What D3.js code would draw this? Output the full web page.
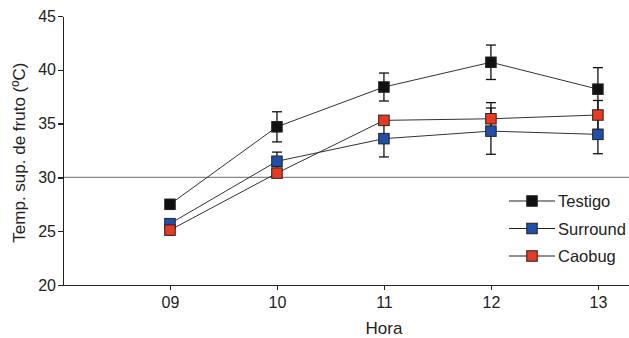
<!DOCTYPE html>
<html lang="es">
<head>
  <meta charset="UTF-8">
  <title>Temp. sup. de fruto</title>
  <script src="https://cdn.jsdelivr.net/npm/d3@7"></script>
  <style>
    body { margin: 0; background: #fff; }
    .axis path, .axis line { stroke: #222; stroke-width: 1.3px; shape-rendering: crispEdges; }
    .axis text { font-family: "Liberation Sans", Arial, sans-serif; font-size: 16px; fill: #222; }
    .lbl { font-family: "Liberation Sans", Arial, sans-serif; font-size: 17px; fill: #222; }
    .leg { font-family: "Liberation Sans", Arial, sans-serif; font-size: 16.5px; fill: #222; }
  </style>
</head>
<body>
  <script>
    const horas = ['09', '10', '11', '12', '13'];
    const xVals = [9, 10, 11, 12, 13];
    const yTicks = [20, 25, 30, 35, 40, 45];
    const series = ['Testigo', 'Surround', 'Caobug'];
    const colors = ['#111111', '#1f4fa8', '#e83a22'];
    const testigo = [27.5, 34.7, 38.4, 40.7, 38.2];
    const surround = [25.7, 31.5, 33.6, 34.3, 34.0];
    const caobug = [25.1, 30.4, 35.3, 35.45, 35.8];
    const errTestigo = [0.4, 1.4, 1.3, 1.6, 2.0];
    const errSurround = [0.4, 0.85, 1.7, 2.15, 1.8];
    const errCaobug = [0.3, 0.3, 0.3, 1.5, 1.35];

    const data = [
      { name: series[0], color: colors[0], vals: testigo, err: errTestigo },
      { name: series[1], color: colors[1], vals: surround, err: errSurround },
      { name: series[2], color: colors[2], vals: caobug, err: errCaobug }
    ];

    const width = 629, height = 338;
    const svg = d3.select('body').append('svg')
      .attr('width', width)
      .attr('height', height);

    const x = d3.scaleLinear().domain([8, 13.3]).range([63, 630]);
    const y = d3.scaleLinear().domain([20, 45]).range([285, 16]);

    // línea de referencia en 30
    svg.append('line')
      .attr('x1', x(8)).attr('x2', width)
      .attr('y1', y(30)).attr('y2', y(30))
      .attr('stroke', '#888').attr('stroke-width', 1.2);

    // ejes
    svg.append('g')
      .attr('class', 'axis')
      .attr('transform', `translate(0,${y(20)})`)
      .call(d3.axisBottom(x).tickValues(xVals).tickFormat((d, i) => horas[i]).tickSizeInner(5).tickSizeOuter(0).tickPadding(7));

    svg.append('g')
      .attr('class', 'axis')
      .attr('transform', `translate(${x(8)},0)`)
      .call(d3.axisLeft(y).tickValues(yTicks).tickSizeInner(5).tickSizeOuter(0).tickPadding(2));

    svg.append('text').attr('class', 'lbl')
      .attr('x', x(11)).attr('y', 334)
      .attr('text-anchor', 'middle')
      .text('Hora');

    svg.append('text').attr('class', 'lbl')
      .attr('transform', `translate(25,${y(32.3)}) rotate(-90)`)
      .attr('text-anchor', 'middle')
      .text('Temp. sup. de fruto (ºC)');

    const line = d3.line().x((d, i) => x(xVals[i])).y(d => y(d));

    // líneas
    data.forEach(s => {
      svg.append('path')
        .attr('d', line(s.vals))
        .attr('fill', 'none')
        .attr('stroke', '#333')
        .attr('stroke-width', 1);
    });

    // barras de error
    data.forEach(s => {
      const g = svg.append('g').attr('stroke', '#111').attr('stroke-width', 1.3);
      s.vals.forEach((v, i) => {
        const cx = x(xVals[i]);
        g.append('line').attr('x1', cx).attr('x2', cx).attr('y1', y(v - s.err[i])).attr('y2', y(v + s.err[i]));
        g.append('line').attr('x1', cx - 5).attr('x2', cx + 5).attr('y1', y(v + s.err[i])).attr('y2', y(v + s.err[i]));
        g.append('line').attr('x1', cx - 5).attr('x2', cx + 5).attr('y1', y(v - s.err[i])).attr('y2', y(v - s.err[i]));
      });
    });

    // marcadores
    const sz = 10.5;
    data.forEach(s => {
      svg.append('g').selectAll('rect')
        .data(s.vals)
        .join('rect')
        .attr('x', (d, i) => x(xVals[i]) - sz / 2)
        .attr('y', d => y(d) - sz / 2)
        .attr('width', sz).attr('height', sz)
        .attr('fill', s.color)
        .attr('stroke', '#222').attr('stroke-width', 1);
    });

    // leyenda
    const legend = svg.append('g').attr('transform', 'translate(509,201)');
    data.forEach((s, i) => {
      const g = legend.append('g').attr('transform', `translate(0,${i * 27.5})`);
      g.append('line').attr('x1', 0).attr('x2', 46).attr('y1', 0).attr('y2', 0)
        .attr('stroke', '#222').attr('stroke-width', 1.2);
      g.append('rect').attr('x', 23 - sz / 2).attr('y', -sz / 2).attr('width', sz).attr('height', sz)
        .attr('fill', s.color).attr('stroke', '#222');
      g.append('text').attr('class', 'leg').attr('x', 49).attr('y', 6).text(s.name);
    });
  </script>
</body>
</html>
